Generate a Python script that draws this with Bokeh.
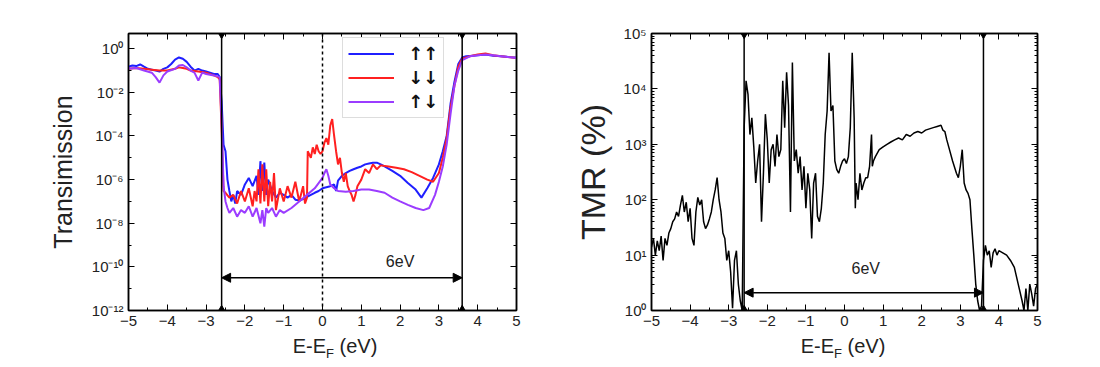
from bokeh.plotting import figure
from bokeh.layouts import row, column
from bokeh.models import (FixedTicker, LinearAxis, LogAxis, CustomJSTickFormatter, Span,
                          Arrow, NormalHead, Label, Legend, Div)
from bokeh.embed import file_html
from bokeh.resources import INLINE

# ---------------- data ----------------
# Transmission, spin up-up (blue)
x_uu = [-5.0, -4.9, -4.8, -4.7, -4.6, -4.5, -4.4, -4.3, -4.2, -4.1, -4.0, -3.9, -3.8, -3.7, -3.6, -3.5,
        -3.4, -3.3, -3.2, -3.1, -3.0, -2.9, -2.8, -2.7, -2.65, -2.6, -2.55, -2.5, -2.45, -2.4, -2.35,
        -2.3, -2.25, -2.2, -2.1, -2.0, -1.9, -1.8, -1.7, -1.65, -1.6, -1.55, -1.5, -1.45, -1.4, -1.3,
        -1.2, -1.1, -1.0, -0.9, -0.8, -0.7, -0.6, -0.5, -0.4, -0.3, -0.2, -0.1, 0.0, 0.1, 0.2, 0.3,
        0.35, 0.4, 0.5, 0.6, 0.7, 0.8, 0.9, 1.0, 1.1, 1.2, 1.3, 1.4, 1.5, 1.6, 1.8, 2.0, 2.2, 2.4,
        2.55, 2.7, 2.85, 3.0, 3.1, 3.2, 3.3, 3.4, 3.5, 3.6, 3.7, 3.8, 4.0, 4.2, 4.4, 4.6, 4.8, 5.0]
t_uu = [0.15, 0.17, 0.16, 0.19, 0.15, 0.12, 0.11, 0.10, 0.09, 0.12, 0.14, 0.20, 0.32, 0.40, 0.35, 0.25,
        0.15, 0.10, 0.12, 0.10, 0.09, 0.08, 0.07, 0.07, 0.05, 4e-3, 4e-5, 2e-5, 1e-6, 3e-7, 1e-7,
        2e-7, 8e-8, 3e-7, 2e-7, 6e-7, 1.2e-6, 5e-7, 1.5e-6, 2e-7, 7e-6, 3e-7, 6e-6, 2e-7, 1e-6, 3e-7,
        1.5e-7, 2.5e-7, 2e-7, 1.5e-7, 2e-7, 1.2e-7, 1.1e-7, 1.3e-7, 1.6e-7, 2e-7, 2.5e-7, 3e-7, 4e-7, 4.5e-7, 5e-7, 6e-7,
        3e-7, 9e-7, 1.5e-6, 2e-6, 2.5e-6, 3e-6, 3.5e-6, 4e-6, 5e-6, 5.5e-6, 6e-6, 6e-6, 5e-6, 4e-6, 2.5e-6, 1.5e-6, 7e-7, 3.5e-7,
        1.5e-7, 4e-7, 1.2e-6, 5e-6, 2e-5, 1e-4, 3e-3, 0.03, 0.2, 0.4, 0.45, 0.47, 0.5, 0.55, 0.48, 0.45, 0.42, 0.40]

# Transmission, spin down-down (red)
x_dd = [-5.0, -4.8, -4.6, -4.4, -4.2, -4.0, -3.8, -3.7, -3.6, -3.5, -3.4, -3.2, -3.0, -2.8, -2.7, -2.65,
        -2.6, -2.55, -2.5, -2.4, -2.3, -2.2, -2.1, -2.0, -1.9, -1.8, -1.75, -1.7, -1.65, -1.6, -1.55,
        -1.5, -1.45, -1.4, -1.35, -1.3, -1.25, -1.2, -1.1, -1.0, -0.9, -0.8, -0.7, -0.6, -0.5, -0.45,
        -0.4, -0.38, -0.3, -0.25, -0.2, -0.15, -0.1, -0.05, 0.0, 0.05, 0.1, 0.15, 0.2, 0.25, 0.3, 0.35,
        0.4, 0.45, 0.5, 0.55, 0.6, 0.65, 0.7, 0.75, 0.8, 0.85, 0.9, 1.0, 1.1, 1.2, 1.3, 1.4, 1.5, 1.7,
        1.9, 2.1, 2.3, 2.5, 2.7, 2.85, 3.0, 3.1, 3.2, 3.3, 3.4, 3.5, 3.6, 3.8, 4.0, 4.2, 4.4, 4.6, 5.0]
t_dd = [0.12, 0.13, 0.12, 0.11, 0.10, 0.10, 0.12, 0.14, 0.13, 0.12, 0.10, 0.09, 0.08, 0.06, 0.05, 0.04,
        2e-4, 3e-7, 2.5e-7, 1.5e-7, 2e-7, 8e-8, 3e-7, 1e-7, 4e-7, 6e-8, 3e-7, 1e-7, 3e-6, 8e-8, 5e-6,
        1e-7, 3e-6, 6e-8, 8e-7, 1e-7, 2e-6, 4e-8, 4e-7, 1e-7, 5e-7, 1.5e-7, 8e-7, 1e-7, 5e-7, 8e-8,
        1.5e-7, 2e-5, 1e-5, 3e-5, 1.5e-5, 4e-5, 2e-5, 1.5e-5, 2e-5, 5e-5, 8e-5, 4e-5, 3e-4, 6e-4, 1e-4, 2e-5,
        5e-6, 1e-5, 2e-6, 8e-7, 2e-6, 5e-7, 3e-7, 2e-7, 1e-7, 2e-7, 5e-7, 1e-6, 3e-6, 2e-6, 5e-6, 3e-6, 4.5e-6, 4e-6,
        3.5e-6, 3e-6, 2.2e-6, 1.5e-6, 1e-6, 8e-7, 2e-6, 1e-5, 8e-5, 2e-3, 0.02, 0.15, 0.35, 0.45, 0.55, 0.6, 0.5, 0.45, 0.38]

# Transmission, antiparallel up-down (purple)
x_ud = [-5.0, -4.8, -4.6, -4.4, -4.3, -4.2, -4.1, -4.0, -3.8, -3.7, -3.6, -3.5, -3.4, -3.3, -3.2, -3.1,
        -3.0, -2.8, -2.65, -2.6, -2.55, -2.5, -2.45, -2.4, -2.3, -2.2, -2.1, -2.0, -1.9, -1.8, -1.7,
        -1.6, -1.55, -1.5, -1.45, -1.4, -1.3, -1.2, -1.1, -1.0, -0.8, -0.6, -0.4, -0.2, 0.0, 0.05,
        0.1, 0.15, 0.2, 0.3, 0.4, 0.6, 0.8, 1.0, 1.2, 1.4, 1.6, 1.8, 2.0, 2.2, 2.4, 2.6, 2.75, 2.9,
        3.0, 3.1, 3.2, 3.3, 3.4, 3.5, 3.6, 3.8, 4.0, 4.2, 4.4, 4.6, 5.0]
t_ud = [0.12, 0.13, 0.10, 0.08, 0.05, 0.028, 0.06, 0.09, 0.12, 0.17, 0.18, 0.14, 0.10, 0.08, 0.035, 0.08,
        0.07, 0.06, 0.05, 5e-4, 5e-7, 1e-7, 5e-8, 3e-8, 5e-8, 2e-8, 4e-8, 3e-8, 6e-8, 2e-8, 5e-8,
        1e-8, 4e-8, 7e-9, 5e-8, 3e-8, 5e-8, 2e-8, 4e-8, 3e-8, 5e-8, 1e-7, 2e-7, 4e-7, 1.2e-6, 2e-6,
        3e-6, 1.5e-6, 6e-7, 4e-7, 3e-7, 2.8e-7, 3e-7, 3.5e-7, 3.5e-7, 3e-7, 2.5e-7, 1.5e-7, 1e-7, 7e-8, 5e-8, 4e-8, 5e-8, 2e-7,
        8e-7, 4e-6, 4e-5, 1e-3, 0.02, 0.1, 0.3, 0.45, 0.5, 0.55, 0.5, 0.45, 0.38]

# TMR (%)
x_tmr = [-5.0, -4.95, -4.9, -4.85, -4.8, -4.75, -4.7, -4.65, -4.6, -4.55, -4.5, -4.45, -4.4, -4.35, -4.3,
         -4.25, -4.2, -4.15, -4.1, -4.05, -4.0, -3.95, -3.9, -3.85, -3.8, -3.75, -3.7, -3.65, -3.6, -3.55,
         -3.5, -3.45, -3.4, -3.35, -3.3, -3.25, -3.2, -3.15, -3.1, -3.05, -3.0, -2.95, -2.9, -2.85, -2.8,
         -2.75, -2.7, -2.65, -2.6, -2.55, -2.5, -2.45, -2.4, -2.35, -2.3, -2.25, -2.2, -2.15, -2.1, -2.05,
         -2.0, -1.95, -1.9, -1.85, -1.8, -1.75, -1.7, -1.65, -1.6, -1.55, -1.5, -1.45, -1.4, -1.35, -1.3,
         -1.25, -1.2, -1.15, -1.1, -1.05, -1.0, -0.95, -0.9, -0.85, -0.8, -0.75, -0.7, -0.65, -0.6, -0.55,
         -0.5, -0.45, -0.4, -0.35, -0.3, -0.25, -0.2, -0.15, -0.1, -0.05, 0.0, 0.05, 0.1, 0.15, 0.2, 0.25,
         0.28, 0.3, 0.35, 0.4, 0.45, 0.5, 0.55, 0.6, 0.65, 0.7, 0.72, 0.75, 0.8, 0.9, 1.0, 1.1, 1.2, 1.3,
         1.4, 1.5, 1.6, 1.7, 1.8, 1.9, 2.0, 2.1, 2.2, 2.3, 2.4, 2.5, 2.55, 2.6, 2.65, 2.7, 2.8, 2.9, 2.95,
         3.0, 3.05, 3.1, 3.15, 3.2, 3.25, 3.3, 3.35, 3.4, 3.45, 3.5, 3.55, 3.6, 3.65, 3.7, 3.75, 3.8, 3.85,
         3.9, 3.95, 4.0, 4.1, 4.2, 4.3, 4.4, 4.5, 4.6, 4.65, 4.7, 4.75, 4.8, 4.85, 4.9, 4.95, 5.0]
tmr = [14, 20, 10, 18, 12, 22, 8, 20, 15, 25, 30, 40, 45, 60, 50,
       80, 120, 60, 90, 40, 70, 20, 15, 60, 110, 80, 100, 40, 30, 35,
       45, 60, 100, 150, 250, 100, 60, 25, 20, 8, 12, 5, 1.1, 8, 12,
       3, 1.5, 1.0, 2000, 14000, 8000, 1500, 3000, 900, 200, 500, 1000, 40, 300, 3500,
       1200, 200, 800, 1000, 400, 1500, 600, 800, 14000, 2000, 20000, 5000, 60, 30000, 500,
       800, 300, 600, 150, 400, 70, 300, 150, 20, 200, 300, 50, 40, 70, 200,
       1500, 4000, 45000, 4000, 5000, 500, 350, 300, 400, 500, 550, 450, 600, 2000, 45000, 3000,
       70, 200, 100, 300, 150, 200, 250, 250, 400, 1500, 400, 500, 600, 800, 900, 1000, 1100, 1200,
       1300, 1200, 1500, 1400, 1600, 1700, 1600, 1800, 1900, 2000, 2100, 2200, 1800, 1700, 1200, 900, 500, 300, 250,
       400, 800, 200, 150, 130, 100, 30, 10, 3, 1.5, 1.0, 1.2, 8, 15, 10, 12, 6, 11,
       13, 10, 12, 11, 10, 8, 6, 3, 1.5, 1.0, 2.5, 1.0, 3, 2, 1.2, 2.5, 3]

gap_edges = [-2.6, 3.6]
gap_label = "6eV"
legend_labels = ["↑↑", "↓↓", "↑↓"]
x_ticks = [-5, -4, -3, -2, -1, 0, 1, 2, 3, 4, 5]

FONT = "Liberation Sans"
SUP = CustomJSTickFormatter(code="""
const s = {'0':'⁰','1':'¹','2':'²','3':'³','4':'⁴','5':'⁵','6':'⁶','7':'⁷','8':'⁸','9':'⁹','-':'⁻'};
const e = Math.round(Math.log10(tick));
return '10' + String(e).split('').map(c => s[c]).join('');
""")
BLANK = CustomJSTickFormatter(code="return ''")

TOP, FRAME_H, BOTTOM = 33, 277, 25


def style_axis(ax):
    ax.axis_line_color = "black"
    ax.axis_line_width = 1.5
    ax.major_tick_in = 6
    ax.major_tick_out = 0
    ax.minor_tick_in = 3
    ax.minor_tick_out = 0
    ax.major_tick_line_width = 1
    ax.minor_tick_line_width = 1
    ax.major_label_text_font = FONT
    ax.major_label_text_font_size = "15px"
    ax.major_label_text_color = "#222222"
    ax.major_label_standoff = 5


def make_fig(width, border_left, border_right, y_range, yticks, yminor):
    p = figure(width=width, height=TOP + FRAME_H + BOTTOM, x_range=(-5, 5), y_range=y_range,
               y_axis_type="log", output_backend="svg", toolbar_location=None,
               min_border_left=border_left, min_border_right=border_right,
               min_border_top=TOP, min_border_bottom=BOTTOM)
    p.grid.visible = False
    p.outline_line_color = "black"
    p.outline_line_width = 1.5
    xt = FixedTicker(ticks=x_ticks, minor_ticks=[v + 0.5 for v in x_ticks[:-1]])
    yt = FixedTicker(ticks=yticks, minor_ticks=yminor)
    p.xaxis.ticker = xt
    p.yaxis.ticker = yt
    p.yaxis.formatter = SUP
    style_axis(p.xaxis[0])
    style_axis(p.yaxis[0])
    top = LinearAxis(ticker=xt, formatter=BLANK)
    style_axis(top)
    top.major_label_standoff = 0
    p.add_layout(top, "above")
    right = LogAxis(ticker=yt, formatter=BLANK)
    style_axis(right)
    right.major_label_standoff = 0
    p.add_layout(right, "right")
    p.yaxis[0].axis_label_text_font = FONT
    p.yaxis[0].axis_label_text_font_style = "normal"
    p.yaxis[0].axis_label_text_color = "#222222"
    return p


def add_gap(p, ybot, ytop, yarrow, ylab, xlab):
    for e in gap_edges:
        p.add_layout(Span(location=e, dimension="height", line_color="black", line_width=1.5))
    p.scatter(gap_edges, [ytop, ytop], marker="inverted_triangle", size=9, color="black")
    p.scatter(gap_edges, [ybot, ybot], marker="triangle", size=9, color="black")
    p.add_layout(Arrow(start=NormalHead(size=9, fill_color="black", line_color="black"),
                       end=NormalHead(size=9, fill_color="black", line_color="black"),
                       x_start=gap_edges[0], y_start=yarrow, x_end=gap_edges[1], y_end=yarrow,
                       line_color="black", line_width=1.5))
    p.add_layout(Label(x=xlab, y=ylab, text=gap_label, text_align="center", text_baseline="middle",
                       text_font=FONT, text_font_size="16px", text_color="#222222"))


def xlabel_div(width, left, box_w):
    html = ('<div style="margin-left:%dpx;width:%dpx;text-align:center;white-space:nowrap;'
            'font-family:\'Liberation Sans\';font-size:20px;color:#222222;line-height:22px;">'
            'E-E<sub style="font-size:13px;line-height:0;">F</sub> (eV)</div>') % (left, box_w)
    return Div(text=html, width=width, height=30, margin=0)


# ---------------- left: transmission ----------------
W1, W2 = 553, 547
p1 = make_fig(W1, 128, 37, (1e-12, 5),
              [1e-12, 1e-10, 1e-8, 1e-6, 1e-4, 1e-2, 1e0],
              [1e-11, 1e-9, 1e-7, 1e-5, 1e-3, 1e-1])
p1.yaxis[0].axis_label = "Transimission"
p1.yaxis[0].axis_label_text_font_size = "25px"
p1.yaxis[0].axis_label_standoff = 12

p1.add_layout(Span(location=0, dimension="height", line_color="black", line_width=1.5, line_dash="3 3"))
add_gap(p1, 1e-12, 5, 10 ** -10.5, 1.8e-10, 2.0)

r1 = p1.line(x_uu, t_uu, line_color="#1f1fff", line_width=2)
r2 = p1.line(x_dd, t_dd, line_color="#ff2020", line_width=2)
r3 = p1.line(x_ud, t_ud, line_color="#9b3cff", line_width=2)
leg = Legend(items=[(legend_labels[0], [r1]), (legend_labels[1], [r2]), (legend_labels[2], [r3])],
             location=(214, 192), glyph_width=46, glyph_height=21, spacing=3, padding=5, margin=0,
             label_text_font="DejaVu Sans", label_text_font_size="18px", label_text_font_style="bold",
             label_text_color="#111111", label_standoff=14, border_line_color="#bbbbbb",
             border_line_width=1.5, background_fill_alpha=1)
p1.add_layout(leg)

# ---------------- right: TMR ----------------
tmr_minor = [m * 10 ** d for d in range(0, 5) for m in range(2, 10)]
p2 = make_fig(W2, 98, 63, (1, 1e5), [1, 10, 100, 1e3, 1e4, 1e5], tmr_minor)
p2.yaxis[0].axis_label = "TMR (%)"
p2.yaxis[0].axis_label_text_font_size = "34px"
p2.yaxis[0].axis_label_standoff = 8
p2.line(x_tmr, tmr, line_color="black", line_width=1.5)
add_gap(p2, 1, 1e5, 2.1, 5.7, 0.55)

layout = column(row(p1, p2), row(xlabel_div(W1, 128, 414), xlabel_div(W2, 98, 384)))
open("out.html", "w").write(file_html(layout, INLINE))
